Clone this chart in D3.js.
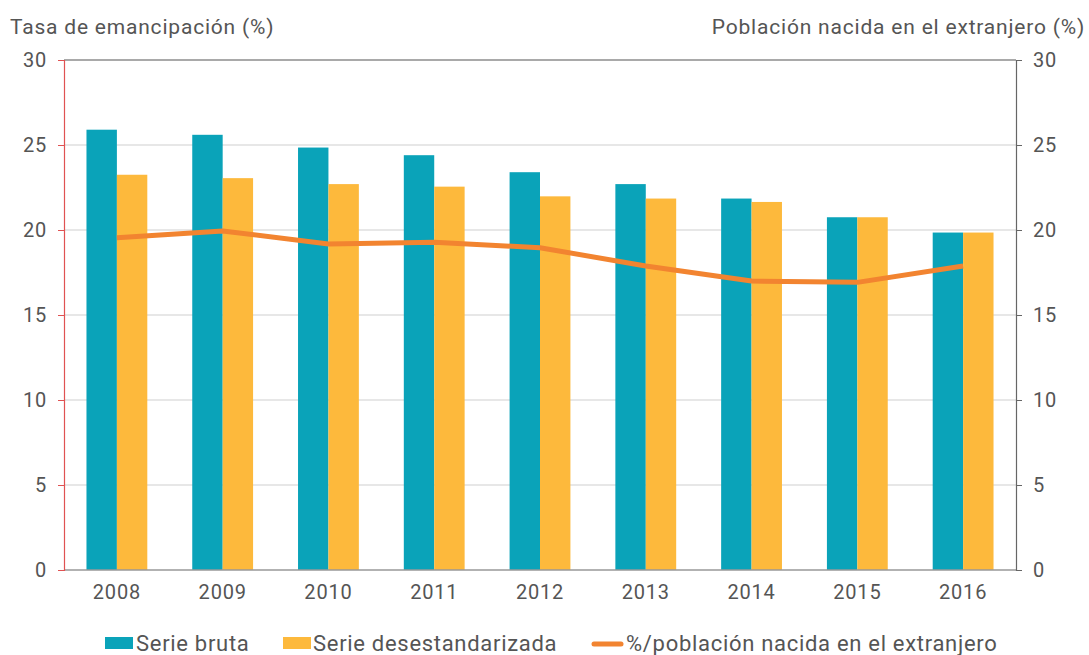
<!DOCTYPE html>
<html><head><meta charset="utf-8">
<script src="https://cdn.jsdelivr.net/npm/d3@7"></script>
<style>body{margin:0;background:#fff}svg{display:block}text{font-family:Roboto,"DejaVu Sans",sans-serif;fill:#555}</style>
</head><body>
<script>
const years = ["2008","2009","2010","2011","2012","2013","2014","2015","2016"];
const serieBruta = [25.9, 25.6, 24.85, 24.4, 23.4, 22.7, 21.85, 20.75, 19.85];
const serieDesest = [23.25, 23.05, 22.7, 22.55, 21.98, 21.85, 21.65, 20.75, 19.85];
const poblacionExtranjero = [19.55, 19.94, 19.18, 19.28, 18.96, 17.88, 17.0, 16.92, 17.88];
const yTicks = [0, 5, 10, 15, 20, 25, 30];
const leftTitle = "Tasa de emancipación (%)";
const rightTitle = "Población nacida en el extranjero (%)";
const legendLabels = ["Serie bruta", "Serie desestandarizada", "%/población nacida en el extranjero"];

const W = 1089, H = 655;
const m = {left: 64, right: 1016, top: 60, bottom: 570};
const teal = "#0aa3b9", yellow = "#fdb93c", orange = "#f28430";

const svg = d3.select("body").append("svg").attr("width", W).attr("height", H);
const x = d3.scaleBand().domain(years).range([m.left, m.right]).paddingInner(0.425).paddingOuter(0.2125);
const xs = d3.scaleBand().domain([0,1]).range([0, x.bandwidth()]);
const y = d3.scaleLinear().domain([0, 30]).range([m.bottom, m.top]);
const y2 = d3.scaleLinear().domain([0, 30]).range([m.bottom, m.top]);

// gridlines
svg.append("g").selectAll("line").data(yTicks.filter(t => t > 0 && t < 30)).join("line")
  .attr("x1", m.left).attr("x2", m.right).attr("y1", d => y(d)).attr("y2", d => y(d))
  .attr("stroke", "#cfcfcf").attr("stroke-width", 1.2);
// top line
svg.append("line").attr("x1", m.left).attr("x2", m.right).attr("y1", y(30)).attr("y2", y(30))
  .attr("stroke", "#555").attr("stroke-width", 1.2);

// bars
const gb = svg.append("g");
years.forEach((yr, i) => {
  [[serieBruta[i], teal], [serieDesest[i], yellow]].forEach(([v, c], j) => {
    gb.append("rect").attr("x", x(yr) + xs(j)).attr("width", xs.bandwidth())
      .attr("y", y(v)).attr("height", y(0) - y(v)).attr("fill", c);
  });
});

// baseline
svg.append("line").attr("x1", m.left).attr("x2", m.right).attr("y1", y(0)).attr("y2", y(0))
  .attr("stroke", "#999").attr("stroke-width", 1.5);

// line
const line = d3.line().x((d, i) => x(years[i]) + x.bandwidth() / 2).y(d => y2(d));
svg.append("path").datum(poblacionExtranjero).attr("d", line)
  .attr("fill", "none").attr("stroke", orange).attr("stroke-width", 5).attr("stroke-linejoin", "round");

// left axis
const ax = d3.axisLeft(y).tickValues(yTicks).tickSize(6).tickPadding(11);
const gl = svg.append("g").attr("transform", `translate(${m.left},0)`).call(ax);
gl.select(".domain").attr("stroke", "#e05252").attr("stroke-width", 1.2);
gl.selectAll(".tick line").attr("stroke", "#e05252");
gl.selectAll(".tick text").style("font-size", "20px").style("letter-spacing", "0.8px").attr("fill", "#555");

// right axis
const ar = d3.axisRight(y2).tickValues(yTicks).tickSize(6).tickPadding(11);
const gr = svg.append("g").attr("transform", `translate(${m.right},0)`).call(ar);
gr.select(".domain").attr("stroke", "#666").attr("stroke-width", 1.2);
gr.selectAll(".tick line").attr("stroke", "#666");
gr.selectAll(".tick text").style("font-size", "20px").style("letter-spacing", "0.8px").attr("fill", "#555");

// x axis labels
const axb = d3.axisBottom(x).tickSize(0).tickPadding(15);
const gx = svg.append("g").attr("transform", `translate(0,${m.bottom})`).call(axb);
gx.select(".domain").remove();
gx.selectAll(".tick text").style("font-size", "20px").style("letter-spacing", "0.8px").attr("fill", "#555");

// titles
svg.append("text").attr("x", 10).attr("y", 34).style("font-size", "21px").style("letter-spacing", "0.8px").text(leftTitle);
svg.append("text").attr("x", 1085).attr("y", 34).attr("text-anchor", "end").style("font-size", "21px").style("letter-spacing", "0.8px").text(rightTitle);

// legend
const lg = svg.append("g").style("font-size", "22px").style("letter-spacing", "0.7px");
lg.append("rect").attr("x", 105).attr("y", 637).attr("width", 28).attr("height", 12).attr("fill", teal);
lg.append("text").attr("x", 136).attr("y", 651).text(legendLabels[0]);
lg.append("rect").attr("x", 283).attr("y", 637).attr("width", 28).attr("height", 12).attr("fill", yellow);
lg.append("text").attr("x", 313).attr("y", 651).text(legendLabels[1]);
lg.append("line").attr("x1", 594).attr("x2", 621).attr("y1", 644).attr("y2", 644)
  .attr("stroke", orange).attr("stroke-width", 5).attr("stroke-linecap", "round");
lg.append("text").attr("x", 626).attr("y", 651).text(legendLabels[2]);
</script>
</body></html>
